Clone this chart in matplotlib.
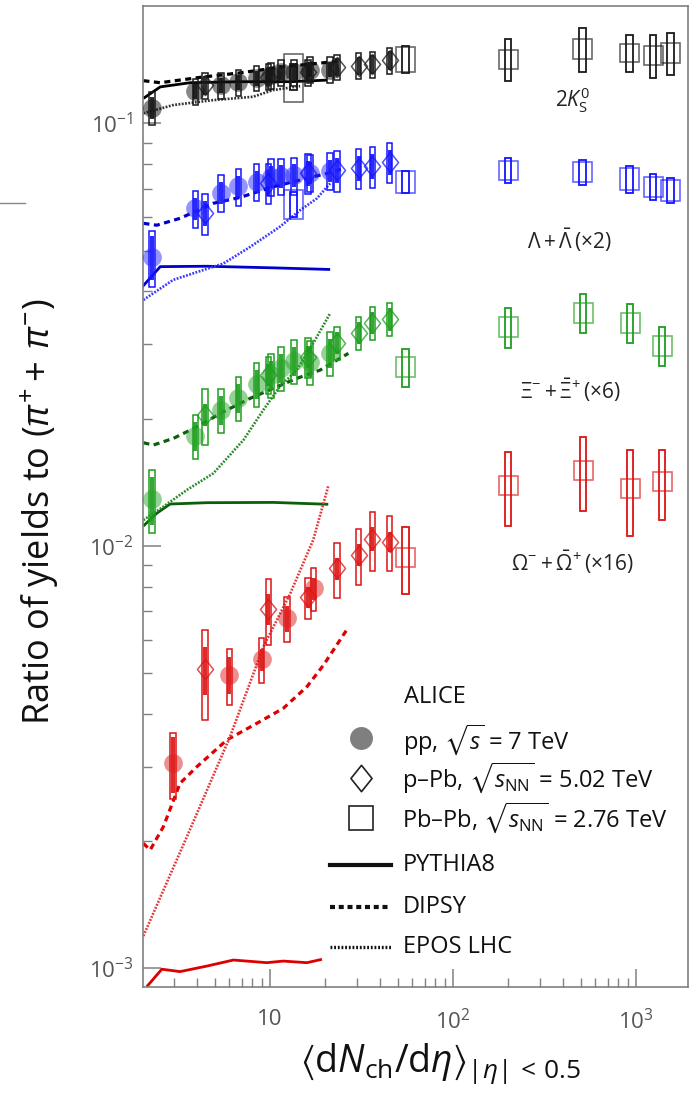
import numpy as np
import matplotlib
matplotlib.use("Agg")
import matplotlib.pyplot as plt
from matplotlib.patches import Rectangle
from matplotlib.path import Path
from matplotlib.lines import Line2D
from matplotlib.ticker import FixedLocator, LogLocator, NullFormatter, FixedFormatter

plt.rcParams['font.family'] = ['Open Sans', 'DejaVu Sans']
plt.rcParams['mathtext.fontset'] = 'custom'
plt.rcParams['mathtext.rm'] = 'Open Sans'
plt.rcParams['mathtext.it'] = 'Open Sans:italic'
plt.rcParams['mathtext.bf'] = 'Open Sans:bold'
plt.rcParams['mathtext.fallback'] = 'stixsans'

# ---------------- multiplicity classes ----------------
pp_x = [2.26, 3.90, 5.40, 6.72, 8.45, 10.1, 11.5, 13.5, 16.5, 21.3]
pp_omega_x = [2.95, 6.0, 9.0, 12.4, 17.3]
ppb_x = [4.4, 9.8, 16.1, 23.2, 30.5, 36.2, 45.0]
pbpb_x_kl = [13.4, 55, 200, 510, 920, 1240, 1540]
pbpb_x_xo = [55, 200, 515, 930, 1390]

# ---------------- 2 K0S / (pi+ + pi-) ----------------
k0s_pp = [0.109, 0.119, 0.123, 0.125, 0.128, 0.130, 0.132, 0.132, 0.134, 0.134]
k0s_pp_sys = [0.09, 0.07, 0.07, 0.07, 0.07, 0.07, 0.07, 0.07, 0.07, 0.07]
k0s_pp_unc = [0.06, 0.04, 0.04, 0.04, 0.04, 0.04, 0.04, 0.04, 0.04, 0.04]
k0s_ppb = [0.123, 0.129, 0.132, 0.136, 0.137, 0.138, 0.141]
k0s_ppb_sys = [0.07, 0.07, 0.07, 0.07, 0.07, 0.07, 0.07]
k0s_ppb_unc = [0.05, 0.05, 0.05, 0.05, 0.05, 0.05, 0.05]
k0s_pbpb = [0.129, 0.142, 0.142, 0.150, 0.147, 0.145, 0.147]
k0s_pbpb_box = [0.13, 0.07, 0.053, 0.054, 0.05, 0.05, 0.053]
k0s_pbpb_sys = [0.07, 0.075, 0.115, 0.12, 0.10, 0.115, 0.115]

# ---------------- 2 Lambda / (pi+ + pi-) ----------------
lam_pp = [0.0483, 0.0629, 0.0685, 0.0709, 0.0727, 0.0747, 0.0750, 0.0754, 0.0764, 0.0772]
lam_pp_sys = [0.15, 0.10, 0.10, 0.10, 0.10, 0.10, 0.10, 0.10, 0.10, 0.10]
lam_pp_unc = [0.12, 0.06, 0.06, 0.06, 0.06, 0.06, 0.06, 0.06, 0.06, 0.06]
lam_ppb = [0.0613, 0.0723, 0.0763, 0.0775, 0.0784, 0.0792, 0.0810]
lam_ppb_sys = [0.11, 0.11, 0.11, 0.11, 0.11, 0.11, 0.11]
lam_ppb_unc = [0.07, 0.07, 0.07, 0.07, 0.07, 0.07, 0.07]
lam_pbpb = [0.0644, 0.0727, 0.0775, 0.0768, 0.0738, 0.0708, 0.0695]
lam_pbpb_box = [0.08, 0.06, 0.05, 0.053, 0.06, 0.055, 0.055]
lam_pbpb_sys = [0.07, 0.06, 0.07, 0.068, 0.072, 0.07, 0.068]

# ---------------- 6 Xi / (pi+ + pi-) ----------------
xi_pp = [0.0129, 0.0182, 0.0210, 0.0224, 0.0242, 0.0254, 0.0264, 0.0274, 0.0273, 0.0286]
xi_pp_sys = [0.17, 0.12, 0.12, 0.12, 0.12, 0.12, 0.12, 0.12, 0.12, 0.12]
xi_pp_unc = [0.13, 0.08, 0.08, 0.08, 0.08, 0.08, 0.08, 0.08, 0.08, 0.08]
xi_ppb = [0.0204, 0.0254, 0.0280, 0.0302, 0.0319, 0.0337, 0.0344]
xi_ppb_sys = [0.15, 0.10, 0.11, 0.09, 0.09, 0.09, 0.09]
xi_ppb_unc = [0.06, 0.06, 0.06, 0.06, 0.06, 0.06, 0.06]
xi_pbpb = [0.0265, 0.0330, 0.0357, 0.0338, 0.0298]
xi_pbpb_box = [0.055, 0.055, 0.055, 0.055, 0.055]
xi_pbpb_sys = [0.105, 0.11, 0.105, 0.105, 0.105]

# ---------------- 16 Omega / (pi+ + pi-) ----------------
om_pp = [0.00306, 0.00495, 0.00539, 0.00674, 0.00793]
om_pp_sys = [0.18, 0.15, 0.12, 0.12, 0.115]
om_pp_unc = [0.15, 0.10, 0.06, 0.07, 0.06]
om_ppb = [0.00510, 0.00709, 0.00755, 0.00885, 0.00951, 0.01038, 0.01023]
om_ppb_sys = [0.24, 0.18, 0.11, 0.15, 0.15, 0.16, 0.15]
om_ppb_unc = [0.13, 0.085, 0.056, 0.06, 0.06, 0.065, 0.056]
om_pbpb = [0.0094, 0.0139, 0.0151, 0.0137, 0.0142]
om_pbpb_box = [0.052, 0.052, 0.052, 0.052, 0.052]
om_pbpb_sys = [0.18, 0.20, 0.20, 0.23, 0.19]

# ---------------- model curves ----------------
k0s_pythia_x = [2.03, 2.51, 3.65, 6.86, 12.9, 20.5]
k0s_pythia_y = [0.1146, 0.1220, 0.1248, 0.1255, 0.1255, 0.1266]
k0s_dipsy_x = [2.03, 2.51, 4.14, 6.86, 11.8, 22.1, 24.7]
k0s_dipsy_y = [0.1262, 0.1248, 0.1285, 0.1317, 0.1361, 0.1399, 0.1405]
k0s_epos_x = [2.03, 2.95, 4.88, 8.07, 10.4, 14.6]
k0s_epos_y = [0.1056, 0.1105, 0.1135, 0.1156, 0.1199, 0.1225]

lam_pythia_x = [2.0, 2.51, 4.5, 10.4, 21.3]
lam_pythia_y = [0.0410, 0.0458, 0.0459, 0.0455, 0.0451]
lam_dipsy_x = [2.03, 2.40, 3.22, 4.90, 6.86, 10.4, 15.9, 20.4, 25.2]
lam_dipsy_y = [0.0580, 0.0574, 0.0596, 0.0647, 0.0668, 0.0708, 0.0741, 0.0761, 0.0782]
lam_epos_x = [2.03, 2.95, 5.56, 7.78, 11.3, 14.6, 18.0, 21.3]
lam_epos_y = [0.0382, 0.0426, 0.0466, 0.0510, 0.0569, 0.0623, 0.0664, 0.0721]

xi_pythia_x = [2.03, 2.40, 2.84, 4.51, 10.4, 20.8]
xi_pythia_y = [0.01114, 0.01194, 0.01256, 0.01265, 0.01267, 0.01254]
xi_dipsy_x = [2.03, 2.30, 2.96, 3.98, 5.56, 7.78, 10.4, 14.0, 18.8, 26.8]
xi_dipsy_y = [0.01754, 0.01732, 0.01796, 0.01913, 0.02077, 0.02234, 0.02359, 0.02491, 0.02607, 0.02855]
xi_epos_x = [2.03, 2.61, 3.51, 4.90, 7.15, 9.19, 11.3, 14.0, 17.2, 21.3]
xi_epos_y = [0.01151, 0.01238, 0.01356, 0.01485, 0.01780, 0.02097, 0.02380, 0.02607, 0.03015, 0.03551]

om_pythia_x = [2.12, 2.56, 3.22, 4.51, 6.30, 9.59, 11.8, 15.9, 19.2]
om_pythia_y = [0.000905, 0.000995, 0.000982, 0.001012, 0.001046, 0.001031, 0.001040, 0.001031, 0.001050]
om_dipsy_x = [2.03, 2.21, 2.61, 3.22, 3.98, 5.80, 8.46, 11.8, 15.9, 19.6, 26.2]
om_dipsy_y = [0.001976, 0.001905, 0.002163, 0.002741, 0.003000, 0.003470, 0.003800, 0.004123, 0.004640, 0.005222, 0.006320]
om_epos_x = [2.03, 3.51, 6.04, 9.19, 12.9, 17.2, 20.8]
om_epos_y = [0.001193, 0.002049, 0.003533, 0.005770, 0.007718, 0.01032, 0.01385]

# ---------------- figure ----------------
W, H = 700, 1109
fig = plt.figure(figsize=(W / 100, H / 100), dpi=100)
ax = fig.add_axes([143 / W, 1 - 987 / H, (688 - 143) / W, (987 - 6) / H])
ax.set_xscale('log')
ax.set_yscale('log')
ax.set_xlim(2.02, 1925)
ax.set_ylim(9.03e-4, 0.1896)

for s in ax.spines.values():
    s.set_color('#808080')
    s.set_linewidth(1.2)

ax.xaxis.set_major_locator(FixedLocator([10, 100, 1000]))
ax.xaxis.set_major_formatter(FixedFormatter(['10', r'$10^{2}$', r'$10^{3}$']))
ax.xaxis.set_minor_locator(LogLocator(base=10, subs=np.arange(2, 10)))
ax.xaxis.set_minor_formatter(NullFormatter())
ax.yaxis.set_major_locator(FixedLocator([1e-3, 1e-2, 1e-1]))
ax.yaxis.set_major_formatter(FixedFormatter([r'$10^{-3}$', r'$10^{-2}$', r'$10^{-1}$']))
ax.yaxis.set_minor_locator(LogLocator(base=10, subs=np.arange(2, 10)))
ax.yaxis.set_minor_formatter(NullFormatter())
ax.tick_params(which='both', direction='in', top=False, right=False,
               color='#808080', labelcolor='#555555', labelsize=16)
ax.tick_params(which='major', length=13, width=1.1)
ax.tick_params(which='minor', length=6.5, width=1.0)
ax.tick_params(axis='x', which='major', pad=16)
ax.tick_params(axis='y', which='major', pad=7)


def xspan(x, wpx):
    x = np.asarray(x, dtype=float)
    pts = ax.transData.transform(np.column_stack([x, np.ones_like(x)]))
    inv = ax.transData.inverted()
    lo = inv.transform(np.column_stack([pts[:, 0] - wpx / 2, pts[:, 1]]))[:, 0]
    hi = inv.transform(np.column_stack([pts[:, 0] + wpx / 2, pts[:, 1]]))[:, 0]
    return lo, hi


def boxes(x, y, err, wpx, color, filled=False, alpha=1.0, lw=1.1, z=3):
    lo, hi = xspan(x, wpx)
    for l, h, yi, e in zip(lo, hi, y, err):
        if filled:
            r = Rectangle((l, yi * (1 - e)), h - l, 2 * yi * e, facecolor=color,
                          edgecolor='none', alpha=alpha, zorder=z)
        else:
            r = Rectangle((l, yi * (1 - e)), h - l, 2 * yi * e, facecolor='none',
                          edgecolor=color, lw=lw, alpha=alpha, zorder=z)
        ax.add_patch(r)


diamond = Path([(0, 1), (0.8, 0), (0, -1), (-0.8, 0), (0, 1)],
               [Path.MOVETO, Path.LINETO, Path.LINETO, Path.LINETO, Path.CLOSEPOLY])

DASH = (0, (1.9, 1.4))
DOT = (0, (0.7, 0.55))

species = [
    dict(color='#1a1a1a', dot='#111111', line='#000000', eline='#333333',
         ppx=pp_x, pp=k0s_pp, pps=k0s_pp_sys, ppu=k0s_pp_unc,
         pbx=ppb_x, pb=k0s_ppb, pbs=k0s_ppb_sys, pbu=k0s_ppb_unc,
         aax=pbpb_x_kl, aa=k0s_pbpb, aab=k0s_pbpb_box, aas=k0s_pbpb_sys,
         py=(k0s_pythia_x, k0s_pythia_y), di=(k0s_dipsy_x, k0s_dipsy_y), ep=(k0s_epos_x, k0s_epos_y)),
    dict(color='#1414ff', dot='#2a2aff', line='#0000cc', eline='#3a3aff',
         ppx=pp_x, pp=lam_pp, pps=lam_pp_sys, ppu=lam_pp_unc,
         pbx=ppb_x, pb=lam_ppb, pbs=lam_ppb_sys, pbu=lam_ppb_unc,
         aax=pbpb_x_kl, aa=lam_pbpb, aab=lam_pbpb_box, aas=lam_pbpb_sys,
         py=(lam_pythia_x, lam_pythia_y), di=(lam_dipsy_x, lam_dipsy_y), ep=(lam_epos_x, lam_epos_y)),
    dict(color='#1e9e1e', dot='#2aa52a', line='#0b5e0b', eline='#2a8a2a',
         ppx=pp_x, pp=xi_pp, pps=xi_pp_sys, ppu=xi_pp_unc,
         pbx=ppb_x, pb=xi_ppb, pbs=xi_ppb_sys, pbu=xi_ppb_unc,
         aax=pbpb_x_xo, aa=xi_pbpb, aab=xi_pbpb_box, aas=xi_pbpb_sys,
         py=(xi_pythia_x, xi_pythia_y), di=(xi_dipsy_x, xi_dipsy_y), ep=(xi_epos_x, xi_epos_y)),
    dict(color='#dd1414', dot='#dd2020', line='#dd0000', eline='#e23a3a',
         ppx=pp_omega_x, pp=om_pp, pps=om_pp_sys, ppu=om_pp_unc,
         pbx=ppb_x, pb=om_ppb, pbs=om_ppb_sys, pbu=om_ppb_unc,
         aax=pbpb_x_xo, aa=om_pbpb, aab=om_pbpb_box, aas=om_pbpb_sys,
         py=(om_pythia_x, om_pythia_y), di=(om_dipsy_x, om_dipsy_y), ep=(om_epos_x, om_epos_y)),
]

for sp in species:
    c = sp['color']
    # model curves
    ax.plot(*sp['py'], color=sp['line'], lw=2.0, zorder=2, solid_capstyle='butt')
    ax.plot(*sp['di'], color=sp['line'], lw=2.3, ls=DASH, zorder=2)
    ax.plot(*sp['ep'], color=sp['eline'], lw=1.9, ls=DOT, zorder=2)
    # pp
    boxes(sp['ppx'], sp['pp'], sp['pps'], 5.5, c, lw=1.1, z=4)
    boxes(sp['ppx'], sp['pp'], sp['ppu'], 4.0, c, filled=True, alpha=0.9, z=4)
    ax.plot(sp['ppx'], sp['pp'], 'o', ms=13.5, color=sp['dot'], alpha=0.5, mec='none', zorder=5)
    # p-Pb
    boxes(sp['pbx'], sp['pb'], sp['pbs'], 5.5, c, lw=1.1, z=4)
    boxes(sp['pbx'], sp['pb'], sp['pbu'], 4.0, c, filled=True, alpha=0.9, z=4)
    ax.plot(sp['pbx'], sp['pb'], marker=diamond, ls='none', ms=14.5, mfc='none',
            mec=c, mew=1.1, alpha=0.75, zorder=5)
    # Pb-Pb
    boxes(sp['aax'], sp['aa'], sp['aab'], 19, c, lw=1.2, alpha=0.65, z=4)
    boxes(sp['aax'], sp['aa'], sp['aas'], 6.5, c, lw=1.3, z=4)

# species labels
lab_kw = dict(transform=fig.transFigure, ha='center', va='center', color='#222222', fontsize=15)
fig.text(572 / W, 1 - 100 / H, r'$2K^{0}_{\mathrm{S}}$', **lab_kw)
fig.text(569 / W, 1 - 240 / H, r'$\mathit{Λ}+\bar{\mathit{Λ}}\,(\times 2)$', **lab_kw)
fig.text(570 / W, 1 - 390 / H, r'$\mathit{Ξ}^{-}+\bar{\mathit{Ξ}}^{+}\,(\times 6)$', **lab_kw)
fig.text(572 / W, 1 - 562 / H, r'$\mathit{Ω}^{-}+\bar{\mathit{Ω}}^{+}\,(\times 16)$', **lab_kw)


# legend drawn in figure pixel positions
def fp(x, y):
    return x / W, 1 - y / H


leg_kw = dict(transform=fig.transFigure, ha='left', va='center', color='#111111', fontsize=17)
fig.text(*fp(404, 697), 'ALICE', **leg_kw)
fig.add_artist(Line2D(*zip(fp(361, 738)), marker='o', ms=16.5, color='#7f7f7f', mec='none',
                      transform=fig.transFigure))
fig.text(*fp(403, 740), r'pp, $\sqrt{s}$ = 7 TeV', **leg_kw)
fig.add_artist(Line2D(*zip(fp(361, 778)), marker=diamond, ms=19, mfc='none', mec='#222222',
                      mew=1.2, transform=fig.transFigure))
fig.text(*fp(402, 778), r'p–Pb, $\sqrt{s_{\mathrm{NN}}}$ = 5.02 TeV', **leg_kw)
fig.add_artist(Line2D(*zip(fp(361, 818)), marker='s', ms=17.5, mfc='none', mec='#222222',
                      mew=1.2, transform=fig.transFigure))
fig.text(*fp(402, 818), r'Pb–Pb, $\sqrt{s_{\mathrm{NN}}}$ = 2.76 TeV', **leg_kw)
for yy, ls, lw, name in [(865, '-', 3.0, 'PYTHIA8'), (907, (0, (1.2, 0.9)), 3.0, 'DIPSY'),
                         (947, (0, (0.55, 0.55)), 2.4, 'EPOS LHC')]:
    (x0, y0), (x1, _) = fp(330, yy), fp(391, yy)
    fig.add_artist(Line2D([x0, x1], [y0, y0], color='#111111', lw=lw, ls=ls,
                          transform=fig.transFigure))
    fig.text(*fp(403, yy), name, **leg_kw)

# axis titles
fig.text(*fp(40, 512), r'Ratio of yields to $(\pi^{+}+\,\pi^{-})$', rotation=90,
         ha='center', va='center', fontsize=26, color='#111111')
fig.text(*fp(440, 1063), r'$\langle \mathrm{d}N_{\mathrm{ch}}/\mathrm{d}\eta\rangle_{|\eta|\,<\,0.5}$',
         ha='center', va='center', fontsize=27, color='#111111')

# short rule at the left margin
fig.add_artist(Line2D([0, 25 / W], [1 - 203 / H] * 2, color='#888888', lw=1.0,
                      transform=fig.transFigure))

fig.savefig('out.png', dpi=100)
